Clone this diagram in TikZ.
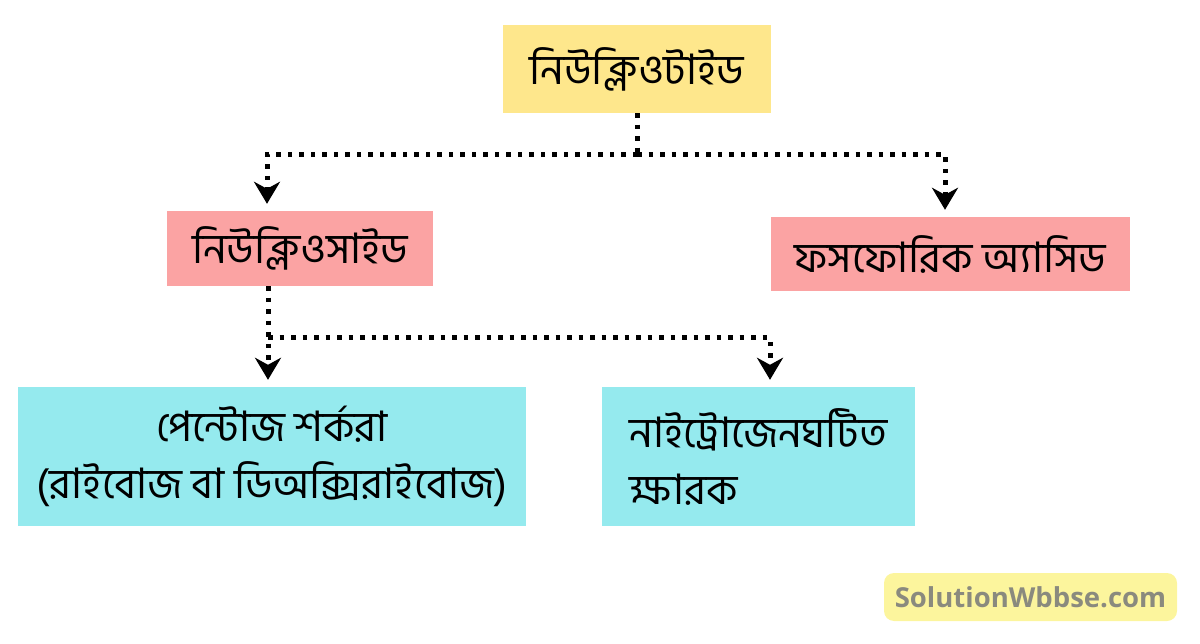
\documentclass[tikz,border=0pt]{standalone}
\usepackage{fontspec}
\newfontfamily\bn[Script=Bengali]{Hind Siliguri}
\newfontfamily\wm{Open Sans}
\usetikzlibrary{arrows.meta}
\definecolor{cyel}{HTML}{FEE78C}
\definecolor{cpink}{HTML}{FBA3A3}
\definecolor{ccyan}{HTML}{95EAEE}
\definecolor{cwm}{HTML}{FCF59D}
\definecolor{cwmtext}{HTML}{8A8A7E}
\tikzset{
  box/.style={rectangle, inner sep=0pt, font=\bn\fontsize{42}{57}\selectfont, text=black},
  dotline/.style={line width=5pt, dash pattern=on 4.5pt off 7pt},
  arr/.style={dotline, -{Stealth[length=22pt,width=26pt,inset=7pt]}, shorten >=7pt},
}
\begin{document}
\begin{tikzpicture}[x=1pt,y=-1pt]
\useasboundingbox (0,0) rectangle (1200,644);
\node[box, fill=cyel, minimum width=268pt, minimum height=88pt] (top) at (637,69) {নিউক্লিওটাইড};
\node[box, fill=cpink, minimum width=266pt, minimum height=75pt] (nuc) at (300,248.5) {নিউক্লিওসাইড};
\node[box, fill=cpink, minimum width=359pt, minimum height=74pt] (pho) at (950.5,254) {ফসফোরিক অ্যাসিড};
\node[box, fill=ccyan, minimum width=508pt, minimum height=139pt, align=center] (pen) at (272,456.5) {পেন্টোজ শর্করা\\(রাইবোজ বা ডিঅক্সিরাইবোজ)};
\node[box, fill=ccyan, minimum width=313pt, minimum height=139pt, align=left] (nit) at (758.5,456.5) {নাইট্রোজেনঘটিত\\ক্ষারক};
\coordinate (j1) at (637,155);
\coordinate (j2) at (268,338);
\draw[dotline] (top.south) -- (j1);
\draw[arr] (j1) -| (nuc.north -| 267,0);
\draw[arr] (j1) -| (pho.north -| 945,0);
\draw[arr] (nuc.south -| 268,0) -- (pen.north -| 268,0);
\draw[arr] (j2) -| (nit.north -| 770,0);
\node[fill=cwm, rounded corners=10pt, minimum width=293pt, minimum height=48pt, inner sep=0pt, font=\wm\bfseries\fontsize{27.5}{30}\selectfont, text=cwmtext] (wm) at (1030.5,597) {SolutionWbbse.com};
\end{tikzpicture}
\end{document}
